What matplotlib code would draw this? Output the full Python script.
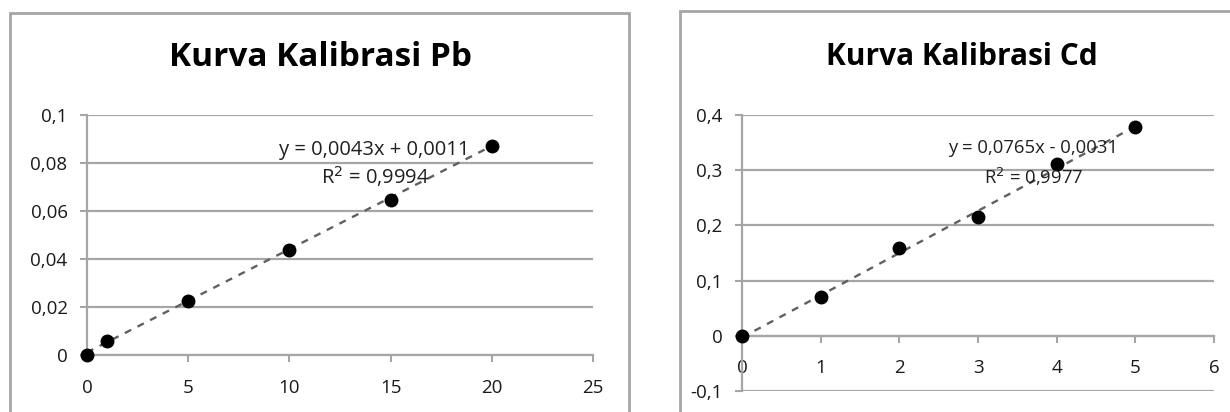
import matplotlib
matplotlib.use("Agg")
from matplotlib import pyplot as plt
from matplotlib.patches import Rectangle
from matplotlib.ticker import FuncFormatter, MultipleLocator
import numpy as np

plt.rcParams['font.family'] = ['Open Sans', 'DejaVu Sans']

# data Pb
pb_x = [0, 1, 5, 10, 15, 20]
pb_y = [0, 0.0060, 0.0227, 0.0438, 0.0645, 0.0872]
pb_slope, pb_icpt = 0.0043, 0.0011
pb_eq = "y = 0,0043x + 0,0011"
pb_r2 = "R$^2$ = 0,9994"

# data Cd
cd_x = [0, 1, 2, 3, 4, 5]
cd_y = [0, 0.0703, 0.1585, 0.216, 0.312, 0.378]
cd_slope, cd_icpt = 0.0765, -0.0031
cd_eq = "y = 0,0765x - 0,0031"
cd_r2 = "R$^2$ = 0,9977"

W, H = 1230, 412
fig = plt.figure(figsize=(W / 100, H / 100), dpi=100)
fig.patch.set_facecolor("white")

grid_c = "#a6a6a6"


def px_axes(x0, y_top, x1, y_bot):
    return fig.add_axes([x0 / W, (H - y_bot) / H, (x1 - x0) / W, (y_bot - y_top) / H])


def comma(v, pos):
    s = "%g" % round(v, 4)
    return s.replace(".", ",")


def style(ax):
    for s in ["top", "right"]:
        ax.spines[s].set_visible(False)
    for s in ["left", "bottom"]:
        ax.spines[s].set_color(grid_c)
        ax.spines[s].set_linewidth(1.6)
    ax.yaxis.grid(True, color=grid_c, linewidth=1.6)
    ax.set_axisbelow(True)
    ax.tick_params(axis="both", colors=grid_c, labelcolor="#1a1a1a", labelsize=13.5,
                   length=5, width=1.5)
    ax.tick_params(axis="y", pad=9)
    ax.tick_params(axis="x", pad=12)
    ax.yaxis.set_major_formatter(FuncFormatter(comma))
    ax.xaxis.set_major_formatter(FuncFormatter(comma))
    ax.set_facecolor("none")


def chart(ax, x, y, slope, icpt):
    xs = np.array([min(x), max(x)])
    ax.plot(xs, slope * xs + icpt, linestyle=(0, (3, 3)), color="#606060", linewidth=1.7, zorder=2)
    ax.plot(x, y, "o", color="black", markersize=9, zorder=3, clip_on=False)


# chart area borders
fig.add_artist(Rectangle((10 / W, -0.1), (629 - 10) / W, (H - 13) / H + 0.1,
                         transform=fig.transFigure, fill=False, edgecolor=grid_c, linewidth=2))
fig.add_artist(Rectangle((680 / W, -0.1), 0.5, (H - 11) / H + 0.1,
                         transform=fig.transFigure, fill=False, edgecolor=grid_c, linewidth=2))

# Pb
ax1 = px_axes(87, 115, 593, 355)
chart(ax1, pb_x, pb_y, pb_slope, pb_icpt)
ax1.set_xlim(0, 25)
ax1.set_ylim(0, 0.1)
ax1.xaxis.set_major_locator(MultipleLocator(5))
ax1.yaxis.set_major_locator(MultipleLocator(0.02))
style(ax1)
fig.text(320 / W, 1 - 58 / H, "Kurva Kalibrasi Pb", ha="center", va="center",
         fontsize=24, fontweight="bold")
fig.text(374 / W, 1 - 150 / H, pb_eq, ha="center", va="center", fontsize=14.5, color="#202020")
fig.text(375 / W, 1 - 177 / H, pb_r2, ha="center", va="center", fontsize=14.5, color="#202020")

# Cd
ax2 = px_axes(742, 115, 1214, 391)
chart(ax2, cd_x, cd_y, cd_slope, cd_icpt)
ax2.set_xlim(0, 6)
ax2.set_ylim(-0.1, 0.4)
ax2.xaxis.set_major_locator(MultipleLocator(1))
ax2.yaxis.set_major_locator(MultipleLocator(0.1))
style(ax2)
ax2.spines["bottom"].set_position(("data", 0))
fig.text(962 / W, 1 - 57 / H, "Kurva Kalibrasi Cd", ha="center", va="center",
         fontsize=21.5, fontweight="bold")
fig.text(1033 / W, 1 - 148 / H, cd_eq, ha="center", va="center", fontsize=13.3, color="#202020")
fig.text(1034 / W, 1 - 177 / H, cd_r2, ha="center", va="center", fontsize=13.3, color="#202020")

fig.savefig("out.png", dpi=100)
